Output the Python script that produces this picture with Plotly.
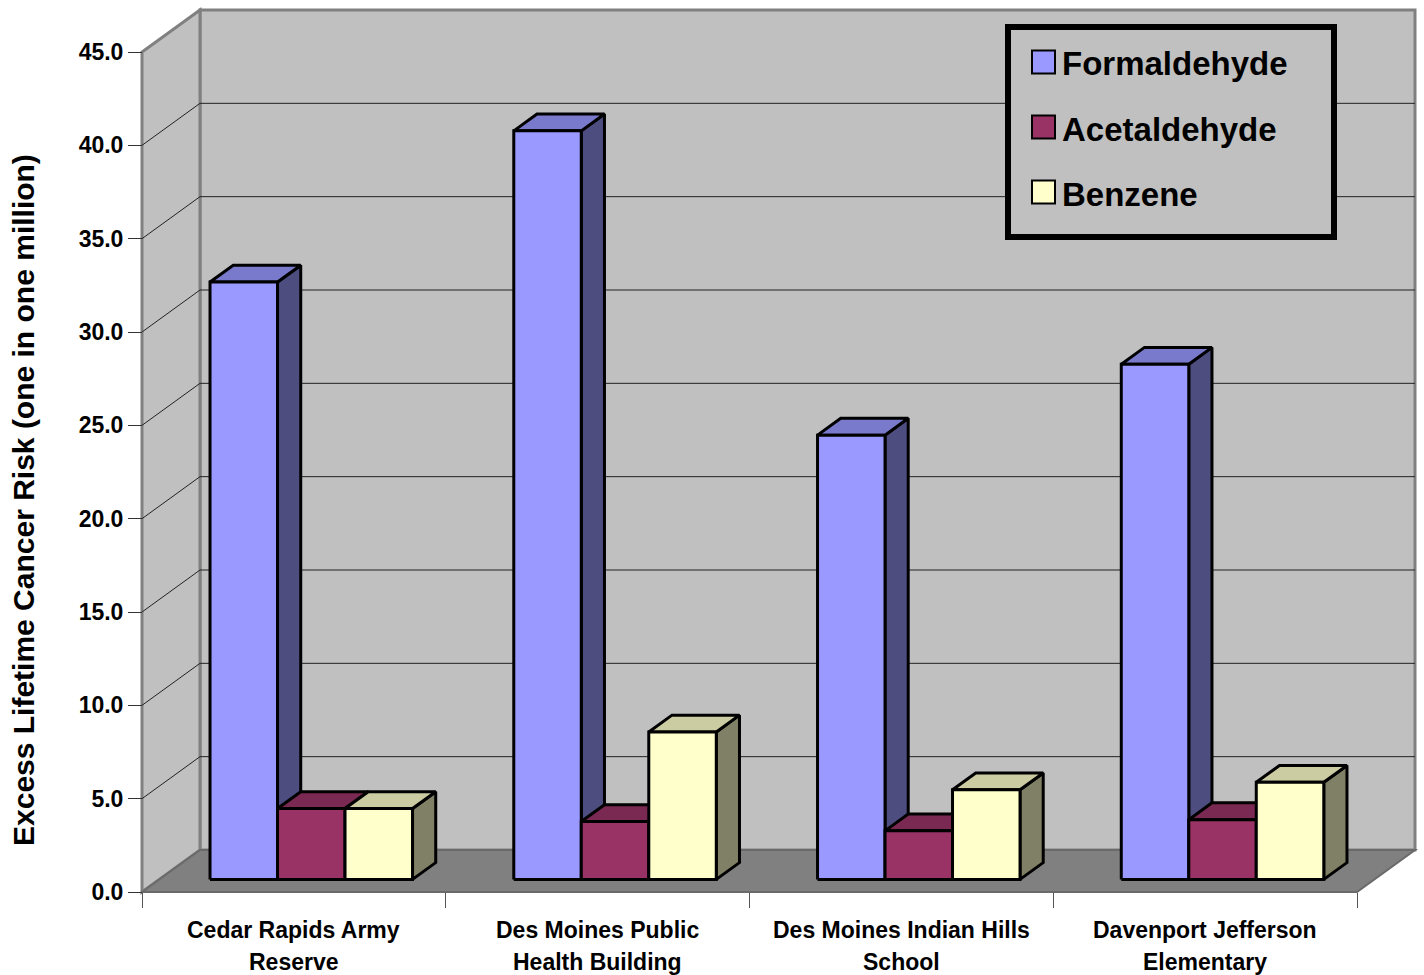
import plotly.graph_objects as go

# ---- data -------------------------------------------------------------
CATEGORIES = [
    "Cedar Rapids Army<br>Reserve",
    "Des Moines Public<br>Health Building",
    "Des Moines Indian Hills<br>School",
    "Davenport Jefferson<br>Elementary",
]
SERIES = ["Formaldehyde", "Acetaldehyde", "Benzene"]
FORMALDEHYDE = [32.0, 40.1, 23.8, 27.6]
ACETALDEHYDE = [3.8, 3.1, 2.6, 3.2]
BENZENE = [3.8, 7.9, 4.8, 5.2]
Y_TICKS = [0, 5, 10, 15, 20, 25, 30, 35, 40, 45]
Y_TITLE = "Excess Lifetime Cancer Risk (one in one million)"

# ---- colours ----------------------------------------------------------
FRONT = {"Formaldehyde": "#9999FF", "Acetaldehyde": "#993366", "Benzene": "#FFFFCC"}
TOP = {"Formaldehyde": "#7A7ACC", "Acetaldehyde": "#7A2952", "Benzene": "#CCCCA3"}
SIDE = {"Formaldehyde": "#4D4D80", "Acetaldehyde": "#4D1A33", "Benzene": "#808066"}
WALL = "#C0C0C0"
WALL_EDGE = "#808080"
FLOOR = "#808080"
FONT = "Liberation Sans, Arial, sans-serif"

# ---- geometry of the pseudo-3D frame ------------------------------------
W, H = 1424, 975
X0_PX, Y0_PX = 142, 892          # front-left corner of the floor
PX_PER_CAT = 303.75              # width of one category slot
PX_PER_UNIT = 840 / 45           # vertical scale of the value axis
DEPTH_PX = (58, 42)              # offset from front plane to back wall
N_CAT = len(CATEGORIES)
Y_MAX = Y_TICKS[-1]

DX = DEPTH_PX[0] / PX_PER_CAT
DY = DEPTH_PX[1] / PX_PER_UNIT


def px_to_x(px):
    return (px - X0_PX) / PX_PER_CAT


def py_to_y(py):
    return (Y0_PX - py) / PX_PER_UNIT


def paper_x(px):
    return px / W


def paper_y(py):
    return 1 - py / H


BAR_W = 1 / 4.5                  # gap width of 150 %
GAP = 0.75 * BAR_W
D_FRONT, D_BACK = 0.3, 0.7       # bar depth inside the floor


def pt(x, y, d):
    return x + d * DX, y + d * DY


fig = go.Figure()

# ---- bars: side, top and front face of each box --------------------------
for j, (name, vals) in enumerate(zip(SERIES, [FORMALDEHYDE, ACETALDEHYDE, BENZENE])):
    faces = {"side": ([], []), "top": ([], []), "front": ([], [])}
    for i, v in enumerate(vals):
        xl = i + GAP + j * BAR_W
        xr = xl + BAR_W
        polys = {
            "side": [(xr, 0, D_FRONT), (xr, 0, D_BACK), (xr, v, D_BACK), (xr, v, D_FRONT)],
            "top": [(xl, v, D_FRONT), (xr, v, D_FRONT), (xr, v, D_BACK), (xl, v, D_BACK)],
            "front": [(xl, 0, D_FRONT), (xr, 0, D_FRONT), (xr, v, D_FRONT), (xl, v, D_FRONT)],
        }
        for k, poly in polys.items():
            xs, ys = faces[k]
            for a, b, d in poly + [poly[0]]:
                px, py = pt(a, b, d)
                xs.append(px)
                ys.append(py)
            xs.append(None)
            ys.append(None)
    for k, color in (("side", SIDE[name]), ("top", TOP[name]), ("front", FRONT[name])):
        xs, ys = faces[k]
        fig.add_trace(go.Scatter(
            x=xs, y=ys, mode="lines", fill="toself", fillcolor=color,
            line=dict(color="black", width=3), name=name,
            showlegend=False, hoverinfo="skip",
        ))

# ---- walls, floor and gridlines -----------------------------------------
shapes = []
shapes.append(dict(type="rect", xref="x", yref="y", x0=DX, x1=N_CAT + DX,
                   y0=DY, y1=Y_MAX + DY, fillcolor=WALL,
                   line=dict(color=WALL_EDGE, width=3), layer="below"))
shapes.append(dict(type="path", xref="x", yref="y",
                   path=f"M0,0 L0,{Y_MAX} L{DX},{Y_MAX + DY} L{DX},{DY} Z",
                   fillcolor=WALL, line=dict(color=WALL_EDGE, width=3), layer="below"))
for v in Y_TICKS[1:-1]:
    shapes.append(dict(type="line", xref="x", yref="y", x0=DX, x1=N_CAT + DX,
                       y0=v + DY, y1=v + DY, line=dict(color="#222222", width=1),
                       layer="below"))
    shapes.append(dict(type="line", xref="x", yref="y", x0=0, x1=DX,
                       y0=v, y1=v + DY, line=dict(color="#222222", width=1),
                       layer="below"))
shapes.append(dict(type="path", xref="x", yref="y",
                   path=f"M0,0 L{N_CAT},0 L{N_CAT + DX},{DY} L{DX},{DY} Z",
                   fillcolor=FLOOR, line=dict(color="#6A6A6A", width=2), layer="below"))

# ---- legend -------------------------------------------------------------
shapes.append(dict(type="rect", xref="paper", yref="paper",
                   x0=paper_x(1008), x1=paper_x(1334), y0=paper_y(27), y1=paper_y(237),
                   fillcolor=WALL, line=dict(color="black", width=6)))
annotations = []
legend_rows = [62, 127, 192]
for name, cy in zip(SERIES, legend_rows):
    shapes.append(dict(type="rect", xref="paper", yref="paper",
                       x0=paper_x(1032), x1=paper_x(1055),
                       y0=paper_y(cy - 11.5), y1=paper_y(cy + 11.5),
                       fillcolor=FRONT[name], line=dict(color="black", width=2)))
    annotations.append(dict(x=paper_x(1060), y=paper_y(cy + 2), xref="paper", yref="paper",
                            text=name, showarrow=False, xanchor="left", yanchor="middle",
                            font=dict(family=FONT, size=33, color="black", weight="bold")))

# ---- category labels (two lines each) -------------------------------------
for i, label in enumerate(CATEGORIES):
    for line, cy in zip(label.split("<br>"), (930, 962)):
        annotations.append(dict(x=i + 0.5, y=paper_y(cy), xref="x", yref="paper",
                                text=line, showarrow=False, xanchor="center",
                                yanchor="middle",
                                font=dict(family=FONT, size=23, color="black",
                                          weight="bold")))

# ---- value axis title ----------------------------------------------------
annotations.append(dict(x=paper_x(24), y=paper_y(500), xref="paper", yref="paper",
                        text=Y_TITLE, showarrow=False, textangle=-90,
                        xanchor="center", yanchor="middle",
                        font=dict(family=FONT, size=30, color="black", weight="bold")))

fig.update_layout(
    width=W, height=H,
    margin=dict(l=0, r=0, t=0, b=0),
    paper_bgcolor="white", plot_bgcolor="white",
    showlegend=False,
    shapes=shapes, annotations=annotations,
    xaxis=dict(range=[px_to_x(0), px_to_x(W)], anchor="free",
               position=paper_y(Y0_PX), tickmode="array",
               tickvals=list(range(N_CAT + 1)), ticktext=[""] * (N_CAT + 1),
               ticks="outside", ticklen=15, tickcolor="#555555", tickwidth=1,
               showgrid=False, zeroline=False, showline=False, fixedrange=True),
    yaxis=dict(range=[py_to_y(H), py_to_y(0)], anchor="free",
               position=paper_x(X0_PX), tickmode="array",
               tickvals=Y_TICKS, ticktext=[f"{v:.1f}" for v in Y_TICKS],
               ticks="outside", ticklen=14, tickcolor="#333333", tickwidth=1,
               tickfont=dict(family=FONT, size=23, color="black", weight="bold"),
               showgrid=False, zeroline=False, showline=False, fixedrange=True),
)

fig.write_html("out.html")
